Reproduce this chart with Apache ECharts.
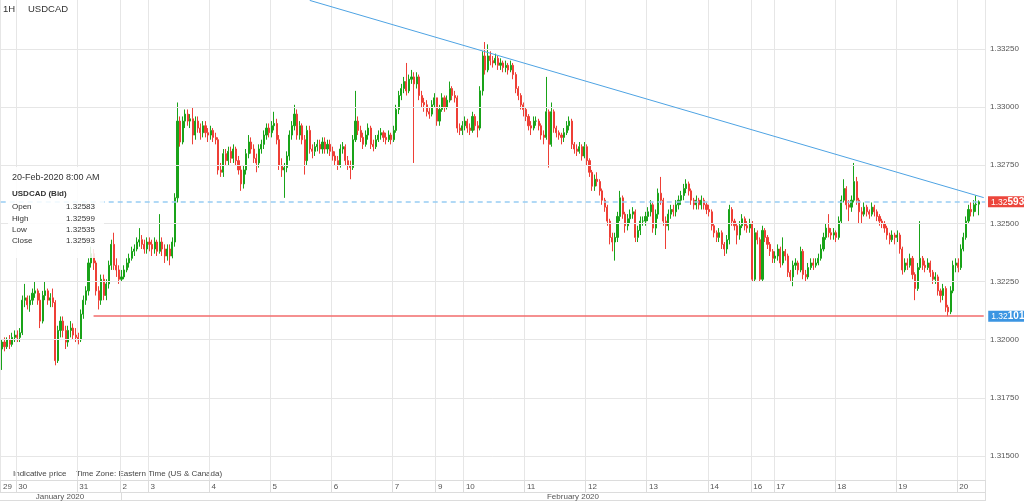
<!DOCTYPE html>
<html><head><meta charset="utf-8">
<script src="https://cdn.jsdelivr.net/npm/echarts@6/dist/echarts.min.js"></script>
<style>html,body{margin:0;padding:0;background:#fff}#c{width:1024px;height:501px}</style>
</head><body><div id="c"></div>
<script>
const FONT = '"Liberation Sans", Arial, sans-serif';
const symbolName = 'USDCAD';
const timeframe = '1H';
const days = ['29','30','31','2','3','4','5','6','7','9','10','11','12','13','14','16','17','18','19','20'];
const dayFirstHour = [18,0,0,13,0,0,0,0,0,13,0,0,0,0,0,15,0,0,0,0];
const dayHours = [6,24,17,11,24,24,24,24,17,11,24,24,24,24,17,9,24,24,24,9];
const padSlots = 2;
const firstOpen = 1.3196;
const close = [
1.3199,1.3197,1.3200,1.3198,1.3201,1.3202,
1.3201,1.3203,1.3217,1.3218,1.3215,1.3217,1.3220,1.3221,1.3217,1.3208,1.3219,1.3221,1.3217,1.3218,1.3216,1.3191,1.3204,1.3208,1.3204,1.3199,1.3204,1.3205,1.3202,1.3201,
1.3200,1.3211,1.3217,1.3221,1.3233,1.3237,1.3233,1.3221,1.3217,1.3226,1.3219,1.3224,1.3232,1.3241,1.3232,1.3230,1.3226,
1.3227,1.3230,1.3233,1.3235,1.3238,1.3239,1.3242,1.3243,1.3241,1.3239,1.3242,
1.3241,1.3239,1.3242,1.3238,1.3242,1.3239,1.3236,1.3239,1.3236,1.3242,1.3261,1.3294,1.3285,1.3294,1.3297,1.3294,1.3295,1.3288,1.3294,1.3291,1.3289,1.3292,1.3289,1.3288,
1.3290,1.3287,1.3286,1.3273,1.3272,1.3280,1.3277,1.3281,1.3278,1.3282,1.3277,1.3273,1.3267,1.3273,1.3280,1.3285,1.3282,1.3278,1.3276,1.3282,1.3284,1.3288,1.3291,1.3289,
1.3292,1.3293,1.3286,1.3275,1.3273,1.3274,1.3279,1.3288,1.3292,1.3297,1.3288,1.3292,1.3286,1.3277,1.3290,1.3282,1.3281,1.3283,1.3284,1.3282,1.3285,1.3282,1.3284,1.3281,
1.3279,1.3277,1.3275,1.3282,1.3283,1.3277,1.3275,1.3274,1.3286,1.3294,1.3290,1.3287,1.3284,1.3288,1.3291,1.3284,1.3283,1.3286,1.3288,1.3289,1.3287,1.3286,1.3288,1.3286,
1.3290,1.3299,1.3305,1.3308,1.3311,1.3307,1.3312,1.3313,1.3310,1.3313,1.3305,1.3302,1.3301,1.3298,1.3297,1.3301,1.3304,
1.3294,1.3299,1.3304,1.3300,1.3303,1.3308,1.3305,1.3304,1.3291,1.3290,1.3292,
1.3294,1.3291,1.3290,1.3296,1.3292,1.3291,1.3307,1.3322,1.3316,1.3322,1.3320,1.3319,1.3321,1.3318,1.3319,1.3317,1.3318,1.3316,1.3318,1.3314,1.3308,1.3305,1.3301,1.3299,
1.3296,1.3292,1.3291,1.3294,1.3294,1.3292,1.3288,1.3287,1.3298,1.3284,1.3298,1.3291,1.3289,1.3288,1.3287,1.3289,1.3292,1.3294,1.3284,1.3282,1.3281,1.3283,1.3279,1.3283,
1.3277,1.3272,1.3266,1.3269,1.3268,1.3264,1.3260,1.3257,1.3251,1.3244,1.3242,1.3244,1.3253,1.3261,1.3254,1.3249,1.3252,1.3254,1.3255,1.3244,1.3247,1.3251,1.3251,1.3253,
1.3255,1.3258,1.3248,1.3254,1.3263,1.3260,1.3251,1.3249,1.3254,1.3256,1.3255,1.3258,1.3260,1.3262,1.3265,1.3267,1.3264,1.3260,1.3258,1.3260,1.3258,1.3260,1.3258,1.3256,
1.3255,1.3249,1.3246,1.3244,1.3246,1.3241,1.3239,1.3243,1.3256,1.3251,1.3249,1.3245,1.3249,1.3252,1.3249,1.3248,1.3250,
1.3226,1.3246,1.3243,1.3226,1.3247,1.3244,1.3241,1.3238,1.3235,
1.3236,1.3239,1.3233,1.3238,1.3236,1.3229,1.3227,1.3232,1.3233,1.3230,1.3238,1.3228,1.3227,1.3231,1.3233,1.3232,1.3233,1.3235,1.3239,1.3244,1.3248,1.3246,1.3245,1.3246,
1.3244,1.3251,1.3260,1.3265,1.3258,1.3257,1.3260,1.3268,1.3260,1.3255,1.3254,1.3257,1.3255,1.3254,1.3257,1.3255,1.3253,1.3251,1.3250,1.3248,1.3245,1.3243,1.3245,1.3244,
1.3245,1.3239,1.3230,1.3233,1.3232,1.3235,1.3228,1.3222,1.3231,1.3235,1.3232,1.3231,1.3233,1.3229,1.3226,1.3227,1.3221,1.3219,1.3222,1.3214,1.3212,1.3221,1.3232,1.3233,
1.3231,1.3239,1.3244,1.3251,1.3256,1.3255,1.3258,1.32583,1.32593
];
const high = [
1.3200,1.3201,1.3201,1.3202,1.3203,1.3204,
1.3204,1.3205,1.3219,1.3224,1.3219,1.3219,1.3222,1.3225,1.3222,1.3220,1.3221,1.3225,1.3222,1.3220,1.3222,1.3217,1.3206,1.3210,1.3210,1.3206,1.3206,1.3208,1.3207,1.3205,
1.3203,1.3213,1.3219,1.3223,1.3235,1.3240,1.3239,1.3234,1.3223,1.3228,1.3228,1.3226,1.3234,1.3243,1.3246,1.3235,1.3232,
1.3230,1.3232,1.3235,1.3237,1.3240,1.3241,1.3244,1.3248,1.3245,1.3243,1.3244,
1.3244,1.3243,1.3244,1.3243,1.3254,1.3244,1.3241,1.3241,1.3241,1.3244,1.3263,1.3302,1.3296,1.3296,1.3299,1.3299,1.3297,1.3300,1.3296,1.3296,1.3293,1.3294,1.3294,1.3291,
1.3292,1.3291,1.3289,1.3287,1.3276,1.3282,1.3282,1.3283,1.3283,1.3284,1.3283,1.3279,1.3275,1.3275,1.3282,1.3288,1.3287,1.3284,1.3280,1.3284,1.3286,1.3290,1.3293,1.3293,
1.3294,1.3298,1.3295,1.3288,1.3278,1.3276,1.3281,1.3290,1.3294,1.3301,1.3299,1.3294,1.3293,1.3288,1.3292,1.3292,1.3284,1.3285,1.3286,1.3286,1.3287,1.3287,1.3286,1.3286,
1.3283,1.3281,1.3279,1.3284,1.3285,1.3284,1.3279,1.3277,1.3288,1.3307,1.3296,1.3292,1.3289,1.3290,1.3293,1.3292,1.3286,1.3288,1.3290,1.3291,1.3290,1.3289,1.3290,1.3289,
1.3292,1.3301,1.3307,1.3310,1.3313,1.3319,1.3314,1.3316,1.3315,1.3315,1.3314,1.3307,1.3304,1.3303,1.3300,1.3303,1.3306,
1.3304,1.3301,1.3306,1.3305,1.3305,1.3311,1.3309,1.3307,1.3305,1.3293,1.3294,
1.3296,1.3295,1.3293,1.3298,1.3297,1.3294,1.3309,1.3324,1.3328,1.3327,1.3324,1.3322,1.3323,1.3322,1.3321,1.3320,1.3320,1.3319,1.3320,1.3319,1.3315,1.3309,1.3306,1.3302,
1.3300,1.3297,1.3294,1.3296,1.3296,1.3295,1.3293,1.3290,1.3313,1.3299,1.3302,1.3299,1.3292,1.3290,1.3289,1.3291,1.3294,1.3296,1.3295,1.3285,1.3284,1.3285,1.3284,1.3285,
1.3284,1.3278,1.3273,1.3271,1.3272,1.3269,1.3265,1.3261,1.3258,1.3252,1.3246,1.3246,1.3255,1.3264,1.3262,1.3255,1.3254,1.3256,1.3257,1.3256,1.3249,1.3253,1.3253,1.3255,
1.3257,1.3260,1.3259,1.3256,1.3265,1.3270,1.3261,1.3253,1.3256,1.3258,1.3258,1.3260,1.3262,1.3264,1.3267,1.3269,1.3268,1.3265,1.3261,1.3262,1.3261,1.3262,1.3261,1.3259,
1.3258,1.3256,1.3250,1.3247,1.3248,1.3247,1.3242,1.3245,1.3258,1.3257,1.3252,1.3250,1.3251,1.3254,1.3253,1.3251,1.3252,
1.3251,1.3248,1.3247,1.3244,1.3249,1.3248,1.3245,1.3242,1.3239,
1.3238,1.3241,1.3240,1.3244,1.3239,1.3237,1.3230,1.3234,1.3235,1.3234,1.3240,1.3239,1.3230,1.3233,1.3235,1.3235,1.3235,1.3237,1.3241,1.3246,1.3250,1.3254,1.3248,1.3248,
1.3247,1.3253,1.3262,1.3269,1.3266,1.3260,1.3262,1.3276,1.3270,1.3261,1.3257,1.3259,1.3258,1.3256,1.3259,1.3258,1.3256,1.3254,1.3252,1.3251,1.3249,1.3246,1.3247,1.3246,
1.3247,1.3246,1.3240,1.3235,1.3235,1.3237,1.3236,1.3229,1.3233,1.3251,1.3236,1.3234,1.3235,1.3234,1.3230,1.3229,1.3228,1.3222,1.3224,1.3223,1.3215,1.3223,1.3234,1.3235,
1.3235,1.3241,1.3246,1.3253,1.3258,1.3259,1.3260,1.3262,1.32599
];
const low = [
1.3187,1.3195,1.3196,1.3196,1.3197,1.3199,
1.3199,1.3199,1.3202,1.3214,1.3213,1.3212,1.3215,1.3218,1.3215,1.3205,1.3207,1.3217,1.3215,1.3214,1.3214,1.3189,1.3190,1.3201,1.3201,1.3196,1.3197,1.3201,1.3200,1.3199,
1.3198,1.3199,1.3209,1.3215,1.3219,1.3231,1.3230,1.3219,1.3213,1.3215,1.3217,1.3217,1.3222,1.3230,1.3230,1.3227,1.3224,
1.3225,1.3226,1.3229,1.3231,1.3234,1.3236,1.3238,1.3240,1.3239,1.3237,1.3237,
1.3238,1.3236,1.3237,1.3236,1.3237,1.3236,1.3233,1.3234,1.3232,1.3235,1.3240,1.3259,1.3283,1.3284,1.3291,1.3292,1.3291,1.3284,1.3286,1.3289,1.3286,1.3287,1.3287,1.3285,
1.3286,1.3285,1.3284,1.3271,1.3270,1.3270,1.3275,1.3275,1.3276,1.3276,1.3275,1.3271,1.3264,1.3265,1.3271,1.3278,1.3280,1.3276,1.3272,1.3274,1.3280,1.3282,1.3286,1.3287,
1.3287,1.3290,1.3284,1.3273,1.3270,1.3261,1.3272,1.3277,1.3286,1.3290,1.3286,1.3286,1.3284,1.3271,1.3275,1.3280,1.3278,1.3279,1.3281,1.3280,1.3280,1.3280,1.3280,1.3279,
1.3277,1.3275,1.3273,1.3274,1.3280,1.3275,1.3273,1.3269,1.3273,1.3285,1.3288,1.3285,1.3282,1.3283,1.3286,1.3282,1.3281,1.3282,1.3285,1.3286,1.3285,1.3284,1.3285,1.3284,
1.3285,1.3289,1.3297,1.3303,1.3306,1.3305,1.3306,1.3310,1.3276,1.3308,1.3303,1.3300,1.3298,1.3296,1.3295,1.3296,1.3300,
1.3292,1.3292,1.3298,1.3298,1.3299,1.3302,1.3303,1.3302,1.3289,1.3288,1.3288,
1.3290,1.3289,1.3288,1.3289,1.3290,1.3287,1.3290,1.3305,1.3314,1.3315,1.3318,1.3317,1.3318,1.3316,1.3316,1.3315,1.3315,1.3314,1.3315,1.3312,1.3306,1.3303,1.3299,1.3296,
1.3294,1.3290,1.3288,1.3290,1.3292,1.3290,1.3286,1.3284,1.3286,1.3274,1.3283,1.3289,1.3287,1.3286,1.3284,1.3285,1.3288,1.3290,1.3282,1.3280,1.3279,1.3280,1.3277,1.3278,
1.3275,1.3270,1.3264,1.3264,1.3266,1.3262,1.3258,1.3255,1.3249,1.3241,1.3238,1.3234,1.3242,1.3251,1.3252,1.3246,1.3247,1.3250,1.3252,1.3242,1.3242,1.3245,1.3249,1.3249,
1.3251,1.3253,1.3246,1.3245,1.3252,1.3258,1.3249,1.3239,1.3247,1.3252,1.3253,1.3253,1.3256,1.3258,1.3260,1.3263,1.3262,1.3258,1.3256,1.3256,1.3256,1.3256,1.3256,1.3254,
1.3253,1.3247,1.3244,1.3242,1.3242,1.3239,1.3236,1.3237,1.3241,1.3249,1.3247,1.3241,1.3243,1.3248,1.3247,1.3246,1.3246,
1.3225,1.3225,1.3241,1.3225,1.3225,1.3242,1.3239,1.3236,1.3233,
1.3233,1.3234,1.3231,1.3232,1.3234,1.3227,1.3225,1.3223,1.3230,1.3228,1.3229,1.3226,1.3225,1.3226,1.3230,1.3230,1.3231,1.3232,1.3234,1.3238,1.3243,1.3244,1.3243,1.3243,
1.3242,1.3243,1.3250,1.3259,1.3256,1.3251,1.3255,1.3259,1.3258,1.3250,1.3250,1.3253,1.3253,1.3252,1.3253,1.3253,1.3251,1.3249,1.3248,1.3246,1.3243,1.3241,1.3242,1.3241,
1.3242,1.3237,1.3228,1.3229,1.3230,1.3231,1.3226,1.3217,1.3221,1.3230,1.3230,1.3229,1.3230,1.3227,1.3224,1.3224,1.3219,1.3216,1.3217,1.3212,1.32101,1.3211,1.3220,1.3229,
1.3229,1.3230,1.3238,1.3243,1.3250,1.3253,1.3253,1.3255,1.32535
];
const priceTicks = [1.315,1.3175,1.32,1.3225,1.325,1.3275,1.33,1.3325];
const trendLine = [[121,1.33459],[386,1.32611]];
const supportLevel = 1.32101;
const supportStartIndex = 36;
const monthLabels = ['January 2020','February 2020'];
const lastTime = '20-Feb-2020 8:00 AM';

// ---- build categories & candles ----
const categories = [];
const dayStart = new Set();
days.forEach((d,i)=>{
  dayStart.add(categories.length);
  for(let h=0;h<dayHours[i];h++) categories.push(d+' '+String(dayFirstHour[i]+h).padStart(2,'0')+':00');
});
const nData = categories.length;
for(let k=1;k<=padSlots;k++) categories.push('20 '+String(8+k).padStart(2,'0')+':00');
const candles = close.map((c,i)=>[i===0?firstOpen:close[i-1], c, low[i], high[i]]);
for(let k=0;k<padSlots;k++) candles.push('-');
const li = close.length-1;
const lastOpen = li>0?close[li-1]:firstOpen, lastClose = close[li];

const isDayStart = (idx)=>dayStart.has(idx);
const tagText = v=>{const s=Number(v).toFixed(5);return '{a|'+s.slice(0,4)+'}{b|'+s.slice(4)+'}';};
const tagLabel = (bg,dist,v)=>({show:true,position:'end',distance:dist,formatter:()=>tagText(v),backgroundColor:bg,padding:[1,6,0,3],
  rich:{a:{color:'#fff',fontSize:8.5,fontFamily:FONT},b:{color:'#fff',fontSize:10,fontWeight:'bold',fontFamily:FONT}}});

const chart = echarts.init(document.getElementById('c'),null,{renderer:'canvas'});
chart.setOption({
  animation:false,
  backgroundColor:'#fff',
  textStyle:{fontFamily:FONT},
  grid:{left:0,right:39,top:0,bottom:21,containLabel:false},
  xAxis:{type:'category',data:categories,boundaryGap:true,
    axisLine:{show:true,lineStyle:{color:'#dcdcdc'}},
    axisTick:{show:true,interval:isDayStart,length:12,lineStyle:{color:'#dcdcdc'}},
    splitLine:{show:true,interval:isDayStart,lineStyle:{color:'#e6e6e6'}},
    axisLabel:{show:true,interval:isDayStart,formatter:v=>v.split(' ')[0],align:'left',
      margin:3,fontSize:8,color:'#555',fontFamily:FONT,padding:[0,0,0,1]}},
  yAxis:{type:'value',position:'right',min:1.313968,max:1.334607,scale:true,
    axisLine:{show:true,lineStyle:{color:'#e6e6e6'}},axisTick:{show:false},axisLabel:{show:false},splitLine:{show:false}},
  series:[
    {type:'line',data:[],z:1,silent:true,
      markLine:{silent:true,symbol:'none',animation:false,precision:5,
        lineStyle:{color:'#e6e6e6',width:1,type:'solid'},
        label:{show:true,position:'end',distance:5,formatter:p=>Number(p.value).toFixed(5),color:'#555',fontSize:8,fontFamily:FONT},
        data:priceTicks.map(v=>({yAxis:v}))}},
    {type:'candlestick',name:symbolName,data:candles,z:3,barWidth:1.6,
      itemStyle:{color:'#19a319',color0:'#ee3f36',borderColor:'#19a319',borderColor0:'#ee3f36',borderWidth:1},
      markLine:{silent:true,symbol:'none',animation:false,precision:5,
        data:[
          [{coord:trendLine[0],lineStyle:{color:'#4ea3e3',width:1,type:'solid'},label:{show:false}},{coord:trendLine[1]}],
          {yAxis:lastClose,lineStyle:{color:'#98cdf3',width:1.5,type:[5,4]},label:tagLabel('#ec463c',3,lastClose)},
          [{coord:[supportStartIndex,supportLevel],lineStyle:{color:'#f26b6b',width:1.5,type:'solid'},label:tagLabel('#3b95e2',4.5,supportLevel)},{coord:[nData+padSlots-1,supportLevel]}]
        ]}}
  ],
  graphic:[
    {type:'line',shape:{x1:0,y1:492.5,x2:986,y2:492.5},style:{stroke:'#dcdcdc',lineWidth:1},silent:true},
    {type:'line',shape:{x1:0,y1:500.5,x2:986,y2:500.5},style:{stroke:'#dcdcdc',lineWidth:1},silent:true},
    {type:'line',shape:{x1:121.5,y1:492,x2:121.5,y2:501},style:{stroke:'#dcdcdc',lineWidth:1},silent:true},
    {type:'line',shape:{x1:985.5,y1:480,x2:985.5,y2:501},style:{stroke:'#dcdcdc',lineWidth:1},silent:true},
    {type:'text',x:60,y:497,style:{text:monthLabels[0],fill:'#555',font:'8px '+FONT,textAlign:'center',textVerticalAlign:'middle'}},
    {type:'text',x:573,y:497,style:{text:monthLabels[1],fill:'#555',font:'8px '+FONT,textAlign:'center',textVerticalAlign:'middle'}},
    {type:'text',x:3,y:9,style:{text:timeframe,fill:'#333',font:'9.5px '+FONT,textVerticalAlign:'middle'}},
    {type:'text',x:28,y:9,style:{text:symbolName,fill:'#333',font:'9.5px '+FONT,textVerticalAlign:'middle'}},
    {type:'text',x:13,y:474,style:{text:'Indicative price',fill:'#444',font:'8px '+FONT,textVerticalAlign:'middle'}},
    {type:'text',x:76,y:474,style:{text:'Time Zone: Eastern Time (US & Canada)',fill:'#444',font:'8px '+FONT,textVerticalAlign:'middle'}},
    {type:'rect',shape:{x:8,y:167,width:96,height:91},style:{fill:'rgba(255,255,255,0.85)'},z:10,silent:true},
    {type:'text',x:12,y:178,z:11,style:{text:lastTime,fill:'#333',font:'9px '+FONT,textVerticalAlign:'middle'}},
    {type:'text',x:12,y:194,z:11,style:{text:symbolName+' (Bid)',fill:'#333',font:'bold 8px '+FONT,textVerticalAlign:'middle'}},
    ...[['Open',lastOpen],['High',high[li]],['Low',low[li]],['Close',lastClose]].flatMap((r,k)=>[
      {type:'text',x:12,y:207+k*11.3,z:11,style:{text:r[0],fill:'#333',font:'8px '+FONT,textVerticalAlign:'middle'}},
      {type:'text',x:95,y:207+k*11.3,z:11,style:{text:r[1].toFixed(5),fill:'#333',font:'8px '+FONT,textAlign:'right',textVerticalAlign:'middle'}}
    ])
  ]
});
</script></body></html>
